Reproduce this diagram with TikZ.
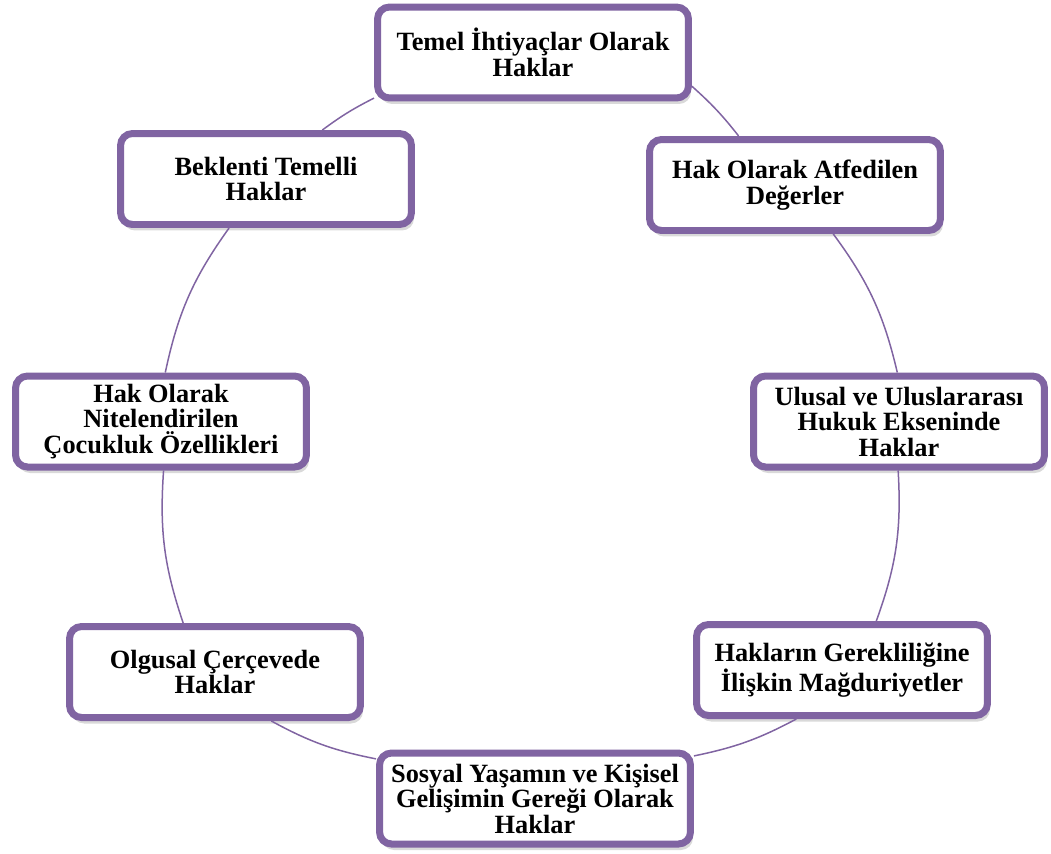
\documentclass[tikz,border=0pt]{standalone}
\usepackage{fontspec}
\setmainfont{Liberation Serif}
\usetikzlibrary{shadows}
\definecolor{mor}{HTML}{8064A2}
\begin{document}
\begin{tikzpicture}[x=0.02cm,y=0.02cm,
    kutu/.style={draw=mor,line width=0.14cm,fill=white,rounded corners=0.24cm,
      minimum width=5.82cm,minimum height=1.82cm,align=center,inner sep=0pt,
      font=\fontsize{15}{14.5}\selectfont\bfseries,
      drop shadow={shadow xshift=0.05cm,shadow yshift=-0.12cm,opacity=0.3}},
    genis/.style={minimum width=6.22cm},
    baglanti/.style={draw=mor,line width=0.03cm}]
    \useasboundingbox (0,0) rectangle (1051,-853);
    % Kutular (saat yönünde)
    \node[kutu,genis] (n1) at (533,-52.5) {Temel İhtiyaçlar Olarak\\Haklar};
    \node[kutu] (n2) at (795,-185) {Hak Olarak Atfedilen\\Değerler};
    \node[kutu] (n3) at (899,-421.5) {Ulusal ve Uluslararası\\Hukuk Ekseninde\\Haklar};
    \node[kutu] (n4) at (842,-670) {Hakların Gerekliliğine\\İlişkin Mağduriyetler};
    \node[kutu,genis] (n5) at (535,-798.5) {Sosyal Yaşamın ve Kişisel\\Gelişimin Gereği Olarak\\Haklar};
    \node[kutu] (n6) at (215,-672) {Olgusal Çerçevede\\Haklar};
    \node[kutu] (n7) at (161,-421.5) {Hak Olarak\\Nitelendirilen\\Çocukluk Özellikleri};
    \node[kutu] (n8) at (266,-179) {Beklenti Temelli\\Haklar};
    % Daire parçaları
    \foreach \a/\aa/\b/\bb/\bk in {1/-12.9/2/139.3/5, 2/-52/3/92.3/11.6,
        3/-91.2/4/55.8/11.6, 4/-133.2/5/15/8.2, 5/166.4/6/-41.7/8.7,
        6/123.7/7/-87.9/11.3, 7/85.4/8/-127/11.8, 8/41.2/1/-164.3/4.8}
    \draw[baglanti] (n\a.\aa) to[bend left=\bk] (n\b.\bb);
\end{tikzpicture}
\end{document}
